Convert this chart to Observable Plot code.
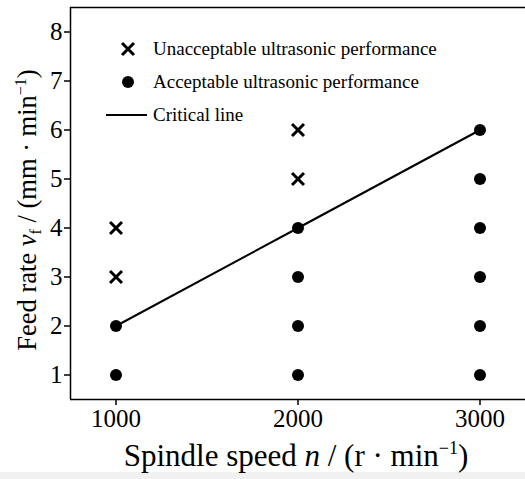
<!DOCTYPE html>
<html><head><meta charset="utf-8">
<script src="https://cdn.jsdelivr.net/npm/d3@7"></script>
<script src="https://cdn.jsdelivr.net/npm/@observablehq/plot@0.6"></script>
<style>body{margin:0;background:#fff} svg{display:block}</style>
</head><body><div id="chart"></div>
<script>
// ---- data ----
const xTicks = [1000, 2000, 3000];
const yTicks = [1, 2, 3, 4, 5, 6, 7, 8];
const unaccX = [1000, 1000, 2000, 2000];
const unaccY = [3, 4, 5, 6];
const accX = [1000, 1000, 2000, 2000, 2000, 2000, 3000, 3000, 3000, 3000, 3000, 3000];
const accY = [1, 2, 1, 2, 3, 4, 1, 2, 3, 4, 5, 6];
const criticalX = [1000, 2000, 3000];
const criticalY = [2, 4, 6];
const legendLabels = ["Unacceptable ultrasonic performance", "Acceptable ultrasonic performance", "Critical line"];

const unacc = unaccX.map((x, i) => ({x, y: unaccY[i]}));
const acc = accX.map((x, i) => ({x, y: accY[i]}));
const critical = criticalX.map((x, i) => ({x, y: criticalY[i]}));

const font = "'Liberation Serif', 'Times New Roman', serif";
const xDomain = [750, 3250], yDomain = [0.5, 8.5];

const plot = Plot.plot({
  width: 525, height: 479,
  marginLeft: 70, marginRight: 0, marginTop: 7, marginBottom: 80,
  style: {fontFamily: font, background: "white", color: "black"},
  x: {domain: xDomain},
  y: {domain: yDomain},
  marks: [
    Plot.axisX(xTicks, {tickSize: 6, tickPadding: 4, fontSize: 25, label: null, strokeWidth: 1.5, tickFormat: d => String(d)}),
    Plot.axisY(yTicks, {tickSize: 6, tickPadding: 2, fontSize: 25, label: null, strokeWidth: 1.5}),
    Plot.ruleX([xDomain[0]], {strokeWidth: 1.5}),
    Plot.ruleY([yDomain[0]], {strokeWidth: 1.5}),
    Plot.ruleY([yDomain[1]], {strokeWidth: 1.5}),
    Plot.line(critical, {x: "x", y: "y", stroke: "black", strokeWidth: 2}),
    Plot.dot(acc, {x: "x", y: "y", r: 6, fill: "black"}),
    Plot.dot(unacc, {x: "x", y: "y", symbol: "times", r: 5.5, stroke: "black", strokeWidth: 3})
  ]
});
document.getElementById("chart").appendChild(plot);

const svg = d3.select(plot);
// tick label size (only the axis texts exist at this point)
svg.selectAll("text").attr("font-size", 25).style("font-size", "25px");

// light band at the bottom of the picture
svg.insert("rect", ":first-child").attr("x", 0).attr("y", 472).attr("width", 525).attr("height", 7).attr("fill", "#f1f1f1");
svg.insert("rect", ":first-child").attr("x", 0).attr("y", 0).attr("width", 525).attr("height", 479).attr("fill", "white");

// x label
const xl = svg.append("text").attr("x", 296).attr("y", 466).attr("text-anchor", "middle")
  .attr("font-family", font).attr("fill", "black").style("font-size", "31px");
xl.append("tspan").text("Spindle speed ");
xl.append("tspan").attr("font-style", "italic").text("n");
xl.append("tspan").text(" / (r · min");
xl.append("tspan").style("font-size", "18px").attr("dy", -12).text("−1");
xl.append("tspan").attr("dy", 12).text(")");

// y label
const yl = svg.append("text").attr("transform", "translate(36,210) rotate(-90)").attr("text-anchor", "middle")
  .attr("font-family", font).attr("fill", "black").style("font-size", "26.5px");
yl.append("tspan").text("Feed rate ");
yl.append("tspan").attr("font-style", "italic").text("v");
yl.append("tspan").style("font-size", "16px").attr("dy", 5).text("f");
yl.append("tspan").attr("dy", -5).text(" / (mm · min");
yl.append("tspan").style("font-size", "16px").attr("dy", -10).text("−1");
yl.append("tspan").attr("dy", 10).text(")");

// legend
const lg = svg.append("g").attr("font-family", font).attr("fill", "black").attr("text-anchor", "start").style("font-size", "19px");
lg.append("path").attr("d", d3.symbol(d3.symbolTimes, 5.5 * 5.5 * Math.PI)()).attr("transform", "translate(128,49)")
  .attr("stroke", "black").attr("stroke-width", 3).attr("fill", "none");
lg.append("circle").attr("cx", 128).attr("cy", 82).attr("r", 6).attr("fill", "black");
lg.append("line").attr("x1", 106).attr("x2", 147).attr("y1", 115).attr("y2", 115).attr("stroke", "black").attr("stroke-width", 2);
legendLabels.forEach((t, i) => {
  lg.append("text").attr("x", 153).attr("y", 55 + i * 33).attr("text-anchor", "start").text(t);
});
</script>
</body></html>
